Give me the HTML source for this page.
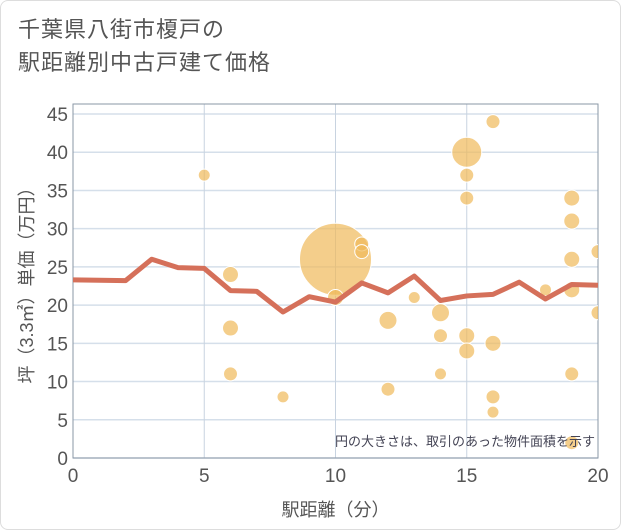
<!DOCTYPE html>
<html><head><meta charset="utf-8"><style>
body{margin:0;background:#fff;font-family:"Liberation Sans","Noto Sans CJK JP",sans-serif}
#wrap{position:relative;width:619px;height:528px;border:1px solid #ddd;border-radius:8px;overflow:hidden;background:#fff}
#title{position:absolute;left:17px;top:12px;font-size:22px;line-height:33px;color:#555;letter-spacing:1px}
svg{position:absolute;left:0;top:0}
</style></head><body>
<div id="wrap">
<div id="title">千葉県八街市榎戸の<br>駅距離別中古戸建て価格</div>
<svg id="c" width="621" height="530"></svg>
</div>
<script>
const lineX=[0,1,2,3,4,5,6,7,8,9,10,11,12,13,14,15,16,17,18,19,20];
const lineY=[23.3,23.25,23.2,26,24.9,24.8,21.9,21.8,19.1,21.1,20.4,22.9,21.6,23.8,20.6,21.2,21.4,23.0,20.8,22.7,22.6];
const bubX=[5,6,6,6,8,10,10,11,11,12,12,13,14,14,14,15,15,15,15,15,16,16,16,16,18,19,19,19,19,19,19,20,20];
const bubY=[37,24,17,11,8,26,21,28,27,18,9,21,19,16,11,40,37,34,16,14,44,15,8,6,22,34,31,26,22,11,2,27,19];
const bubR=[6,8,8,7,6,36,8,7,7,9,7,6,9,7,6,15,7,7,8,8,7,8,7,6,6,8,8,8,8,7,7,7,7];
const xTicks=[0,5,10,15,20];
const yTicks=[0,5,10,15,20,25,30,35,40,45];
const L=72,R=597,T=103,B=457;
const sx=v=>L+(v-0)/20*(R-L);
const sy=v=>457-v/45*(457-113);
const svg=document.getElementById('c');
const NS='http://www.w3.org/2000/svg';
function mk(t,a){const e=document.createElementNS(NS,t);for(const k in a)e.setAttribute(k,a[k]);svg.appendChild(e);return e;}
const defs=mk('defs',{});
const cp=document.createElementNS(NS,'clipPath');cp.setAttribute('id','clip');
const cr=document.createElementNS(NS,'rect');cr.setAttribute('x',L);cr.setAttribute('y',T);cr.setAttribute('width',R-L);cr.setAttribute('height',B-T);
cp.appendChild(cr);defs.appendChild(cp);
yTicks.forEach(v=>{
 const g=mk('line',{x1:L,x2:R,y1:sy(v),y2:sy(v),stroke:'#d5dfea','stroke-width':1.5});
 
 
 const t=mk('text',{x:L-5,y:sy(v)+7,'text-anchor':'end','font-size':19,fill:'#555'});
 t.textContent=v;
 
 
});
xTicks.forEach(v=>{
 const g=mk('line',{x1:sx(v),x2:sx(v),y1:T,y2:B,stroke:'#c8d3e0','stroke-width':1});
 
 
 const t=mk('text',{x:sx(v),y:B+24,'text-anchor':'middle','font-size':19,fill:'#555'});
 t.textContent=v;
 
 
});
const fr=mk('rect',{x:L,y:T,width:R-L,height:B-T,fill:'none',stroke:'#8a97a6','stroke-width':1});


const bg=mk('g',{'clip-path':'url(#clip)'});
bubX.forEach((x,i)=>{
 const c=document.createElementNS(NS,'circle');
 c.setAttribute('cx',sx(x));c.setAttribute('cy',sy(bubY[i]));c.setAttribute('r',bubR[i]);
 c.setAttribute('fill','rgba(240,185,90,0.7)');c.setAttribute('stroke','#fff');c.setAttribute('stroke-width','1');
 
 
 bg.appendChild(c);
});
const pl=mk('polyline',{points:lineX.map((x,i)=>sx(x)+','+sy(lineY[i])).join(' '),fill:'none',stroke:'#d5705a','stroke-width':5,'stroke-linejoin':'round'});


const note=mk('text',{x:R-3,y:B-12,'text-anchor':'end','font-size':13,fill:'#445'});
note.textContent='円の大きさは、取引のあった物件面積を示す';


const xt=mk('text',{x:(L+R)/2,y:515,'text-anchor':'middle','font-size':18,fill:'#555'});
xt.textContent='駅距離（分）';


const yt=mk('text',{x:0,y:0,'text-anchor':'middle','font-size':18,fill:'#555',transform:'translate(32,'+((T+B)/2)+') rotate(-90)'});
yt.textContent='坪（3.3㎡）単価（万円）';


</script>
</body></html>
